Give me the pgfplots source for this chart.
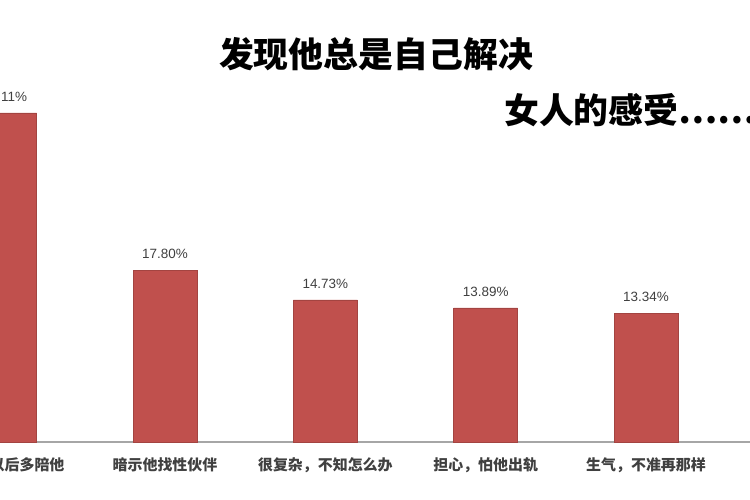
\documentclass[border=0pt]{standalone}
\usepackage{fontspec}
\usepackage{pgfplots}
\pgfplotsset{compat=1.18}
\setmainfont{Liberation Sans}
\newfontfamily\cjk{Noto Sans CJK SC}
\definecolor{barred}{HTML}{C0504D}

\begin{document}
\begin{tikzpicture}[x=1bp,y=1bp]
  % the reference is a crop of a wider chart
  \clip (0,0) rectangle (750,500);
  \fill[white] (0,0) rectangle (750,500);
  \begin{axis}[
      at={(-75.5bp,58bp)}, anchor=south west,
      scale only axis, width=962bp, height=386bp,
      xmin=-0.5, xmax=5.5, ymin=0, ymax=40,
      axis x line*=bottom, axis y line=none,
      x axis line style={draw=black!35, line width=1.2pt, -},
      xtick={0,...,4},
      xticklabels={希望他以后多陪他, 暗示他找性伙伴, {很复杂，不知怎么办}, {担心，怕他出轨}, {生气，不准再那样}},
      major tick length=0pt,
      xticklabel style={font=\cjk\bfseries\fontsize{15}{18}\selectfont, text=black!75, yshift=-12bp},
      ybar, bar width=64bp,
      /pgf/number format/assume math mode=true,
      nodes near coords={\pgfmathprintnumber[fixed,fixed zerofill,precision=2]{\pgfplotspointmeta}\%},
      nodes near coords style={font=\fontsize{13.5}{16}\selectfont, text=black!75, yshift=8bp},
      clip=false,
    ]
    \addplot[fill=barred, draw=barred!85!black] coordinates {
      (0,34.11) (1,17.80) (2,14.73) (3,13.89) (4,13.34)
    };
  \end{axis}
  \node[font=\cjk\bfseries\fontsize{35}{38}\selectfont] at (376,446) {发现他总是自己解决};
  \node[anchor=west, font=\cjk\bfseries\fontsize{35}{38}\selectfont, inner sep=0pt] at (504,390) {女人的感受……};
\end{tikzpicture}
\end{document}
